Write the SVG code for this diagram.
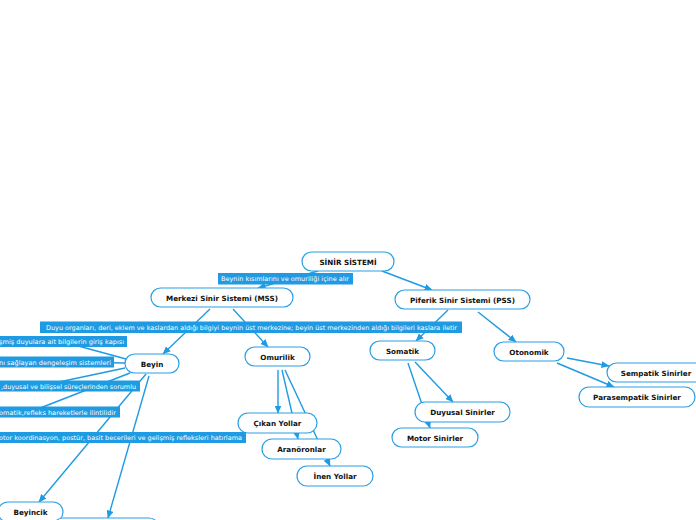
<svg xmlns="http://www.w3.org/2000/svg" width="696" height="520" viewBox="0 0 696 520">
<defs>
<marker id="arr" viewBox="0 0 8 7" refX="7.5" refY="3.5" markerWidth="8" markerHeight="7" markerUnits="userSpaceOnUse" orient="auto">
<path d="M0,0 L8,3.5 L0,7 z" fill="#1f9be2"/>
</marker>
<style>
.c{stroke:#1f9be2;stroke-width:1.4;fill:none}
.a{marker-end:url(#arr)}
.n rect{fill:#fff;stroke:#2a9fe3;stroke-width:1.2}
.n text{font-family:"DejaVu Sans",Verdana,sans-serif;font-size:7.2px;font-weight:bold;fill:#111;text-anchor:middle}
.l rect{fill:#1e9be2}
.l text{font-family:"DejaVu Sans",Verdana,sans-serif;font-size:6.4px;fill:#fff}
</style>
</defs>
<rect width="696" height="520" fill="#fff"/>
<g id="connectors">
<line class="c a" x1="318" y1="271" x2="258" y2="288"/>
<line class="c a" x1="382" y1="271" x2="432" y2="290"/>
<line class="c a" x1="210" y1="309" x2="163" y2="354"/>
<line class="c a" x1="233" y1="309" x2="268" y2="347"/>
<line class="c a" x1="448" y1="310" x2="416" y2="341"/>
<line class="c a" x1="478" y1="312" x2="516" y2="342"/>
<line class="c" x1="126" y1="359" x2="60" y2="341"/>
<line class="c" x1="125" y1="363" x2="60" y2="362"/>
<line class="c" x1="125" y1="368" x2="40" y2="386"/>
<line class="c" x1="130" y1="373" x2="30" y2="412"/>
<line class="c a" x1="146" y1="374" x2="39" y2="502"/>
<line class="c a" x1="149" y1="376" x2="108" y2="518"/>
<line class="c a" x1="278" y1="370" x2="278" y2="413"/>
<line class="c a" x1="282" y1="370" x2="298" y2="439"/>
<line class="c a" x1="285" y1="370" x2="330" y2="466"/>
<line class="c a" x1="415" y1="362" x2="453" y2="402"/>
<line class="c a" x1="408" y1="363" x2="430" y2="428"/>
<line class="c a" x1="567" y1="358" x2="609" y2="366"/>
<line class="c a" x1="557" y1="363" x2="614" y2="387"/>
</g>
<g id="n-sinir" class="n"><rect x="302" y="252" width="92" height="19" rx="9.5"/><text x="348" y="264.5">SİNİR SİSTEMİ</text></g>
<g id="n-mss" class="n"><rect x="151" y="288" width="142" height="19" rx="9.5"/><text x="222" y="300.5">Merkezi Sinir Sistemi (MSS)</text></g>
<g id="n-pss" class="n"><rect x="395" y="290" width="135" height="19" rx="9.5"/><text x="462.5" y="302.5">Piferik Sinir Sistemi (PSS)</text></g>
<g id="n-beyin" class="n"><rect x="125" y="354" width="54" height="19" rx="9.5"/><text x="152" y="366.5">Beyin</text></g>
<g id="n-omurilik" class="n"><rect x="245" y="347" width="65" height="19" rx="9.5"/><text x="277.5" y="359.5">Omurilik</text></g>
<g id="n-somatik" class="n"><rect x="370" y="341" width="65" height="19" rx="9.5"/><text x="402.5" y="353.5">Somatik</text></g>
<g id="n-otonomik" class="n"><rect x="494" y="342" width="70" height="19" rx="9.5"/><text x="529" y="354.5">Otonomik</text></g>
<g id="n-sempatik" class="n"><rect x="607" y="363" width="98" height="19" rx="9.5"/><text x="656" y="375.5">Sempatik Sinirler</text></g>
<g id="n-parasempatik" class="n"><rect x="579" y="387" width="116" height="20" rx="10"/><text x="637" y="399.5">Parasempatik Sinirler</text></g>
<g id="n-duyusal" class="n"><rect x="415" y="402" width="95" height="20" rx="10"/><text x="462.5" y="414.5">Duyusal Sinirler</text></g>
<g id="n-motor" class="n"><rect x="392" y="428" width="86" height="19" rx="9.5"/><text x="435" y="440.5">Motor Sinirler</text></g>
<g id="n-cikan" class="n"><rect x="238" y="413" width="79" height="20" rx="10"/><text x="277.5" y="425.5">Çıkan Yollar</text></g>
<g id="n-araneuron" class="n"><rect x="262" y="439" width="79" height="20" rx="10"/><text x="301.5" y="451.5">Aranöronlar</text></g>
<g id="n-inen" class="n"><rect x="297" y="466" width="76" height="20" rx="10"/><text x="335" y="478.5">İnen Yollar</text></g>
<g id="n-beyincik" class="n"><rect x="-2" y="502" width="65" height="20" rx="10"/><text x="30.5" y="514.5">Beyincik</text></g>
<g id="n-bottom" class="n"><rect x="53" y="518" width="106" height="20" rx="10"/></g>
<g id="labels">
<g class="l"><rect x="218" y="273" width="135" height="11.5"/><text x="221" y="281.2" textLength="128" lengthAdjust="spacingAndGlyphs">Beynin kısımlarını ve omuriliği içine alır</text></g>
<g class="l"><rect x="40" y="321.5" width="422" height="11.5"/><text x="46" y="329.7" textLength="411" lengthAdjust="spacingAndGlyphs">Duyu organları, deri, eklem ve kaslardan aldığı bilgiyi beynin üst merkezine; beyin üst merkezinden aldığı bilgileri kaslara iletir</text></g>
<g class="l"><rect x="-10" y="336" width="137" height="11"/><text x="-1" y="344" textLength="125" lengthAdjust="spacingAndGlyphs">şmiş duyulara ait bilgilerin giriş kapısı</text></g>
<g class="l"><rect x="-10" y="356.5" width="124" height="11"/><text x="-1" y="364.5" textLength="112" lengthAdjust="spacingAndGlyphs">nı sağlayan dengeleşim sistemleri</text></g>
<g class="l"><rect x="-10" y="380.5" width="150" height="11"/><text x="1" y="388.5" textLength="135" lengthAdjust="spacingAndGlyphs">,duyusal ve bilişsel süreçlerinden sorumlu</text></g>
<g class="l"><rect x="-10" y="406.5" width="130" height="11"/><text x="-1" y="414.5" textLength="117" lengthAdjust="spacingAndGlyphs">omatik,refleks hareketlerle ilintilidir</text></g>
<g class="l"><rect x="-10" y="432" width="256" height="11"/><text x="-1" y="440" textLength="243" lengthAdjust="spacingAndGlyphs">otor koordinasyon, postür, basit becerileri ve gelişmiş refleksleri hatırlama</text></g>
</g>
</svg>
